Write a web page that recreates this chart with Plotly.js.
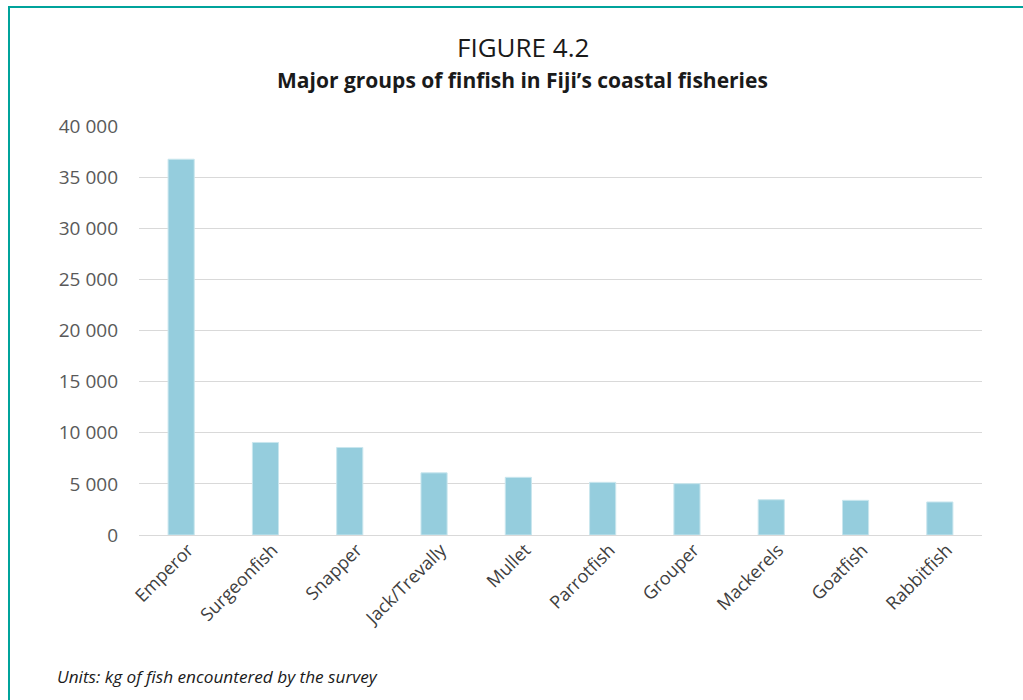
<!DOCTYPE html>
<html>
<head>
<meta charset="utf-8">
<script src="https://cdn.plot.ly/plotly-3.0.1.min.js"></script>
<style>
html,body{margin:0;padding:0;background:#fff;}
#wrap{position:relative;width:1023px;height:700px;overflow:hidden;}
#chart{position:absolute;left:0;top:0;width:1023px;height:700px;}
#frame{position:absolute;left:8px;top:6px;width:1030px;height:710px;border-left:2px solid #00a39b;border-top:2px solid #00a39b;pointer-events:none;}
</style>
</head>
<body>
<div id="wrap">
<div id="chart"></div>
<div id="frame"></div>
</div>
<script>
const categories = ["Emperor","Surgeonfish","Snapper","Jack/Trevally","Mullet","Parrotfish","Grouper","Mackerels","Goatfish","Rabbitfish"];
const values = [36750, 9050, 8560, 6080, 5640, 5150, 5020, 3450, 3390, 3230];
const yTicks = [0, 5000, 10000, 15000, 20000, 25000, 30000, 35000, 40000];
const figureLabel = "FIGURE 4.2";
const titleText = "Major groups of finfish in Fiji’s coastal fisheries";
const noteText = "Units: kg of fish encountered by the survey";

const trace = {
  type: 'bar',
  x: categories,
  y: values,
  marker: {color: '#95cddd', line: {color: '#c9e6ee', width: 1}},
  hoverinfo: 'x+y'
};

const layout = {
  width: 1023, height: 700,
  margin: {l: 139, r: 41, t: 126, b: 165},
  paper_bgcolor: '#ffffff', plot_bgcolor: '#ffffff',
  font: {family: 'Open Sans, sans-serif', color: '#595959'},
  bargap: 0.69,
  showlegend: false,
  separators: '. ',
  xaxis: {
    type: 'category',
    tickangle: -45,
    ticklabelshift: 7,
    tickfont: {size: 18, color: '#404040', family: 'Open Sans, sans-serif'},
    showgrid: false, showline: false, zeroline: false, ticks: ''
  },
  yaxis: {
    range: [0, 40000],
    tickvals: yTicks,
    tickformat: ',d',
    separatethousands: true,
    tickfont: {size: 19, color: '#595959', family: 'Open Sans, sans-serif'},
    showgrid: true, gridcolor: '#d9d9d9', gridwidth: 1,
    zeroline: true, zerolinecolor: '#d9d9d9', zerolinewidth: 1,
    showline: false, ticks: '', ticklabelstandoff: 20
  },
  annotations: [
    {text: figureLabel, xref: 'paper', yref: 'paper', x: 0.4555, y: 1.193, xanchor: 'center', yanchor: 'middle', showarrow: false,
     font: {size: 26, color: '#1a1a1a', family: 'Open Sans, sans-serif'}},
    {text: '<b>' + titleText + '</b>', xref: 'paper', yref: 'paper', x: 0.4555, y: 1.1125, xanchor: 'center', yanchor: 'middle', showarrow: false,
     font: {size: 21, color: '#1a1a1a', family: 'Open Sans, sans-serif'}},
    {text: '<i>' + noteText + '</i>', xref: 'paper', yref: 'paper', x: -0.1, y: -0.347, xanchor: 'left', yanchor: 'middle', showarrow: false,
     font: {size: 17.2, color: '#1a1a1a', family: 'Open Sans, sans-serif'}}
  ]
};

Plotly.newPlot('chart', [trace], layout, {displayModeBar: false, staticPlot: true});
</script>
</body>
</html>
